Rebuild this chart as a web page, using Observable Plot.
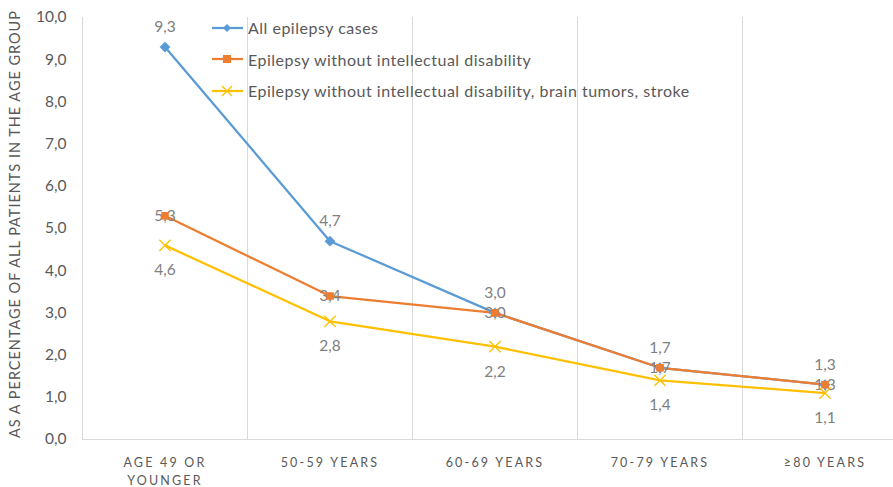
<!DOCTYPE html>
<html>
<head>
<meta charset="utf-8">
<script src="https://cdn.jsdelivr.net/npm/d3@7"></script>
<script src="https://cdn.jsdelivr.net/npm/@observablehq/plot@0.6"></script>
<style>
  html, body { margin: 0; padding: 0; background: #fff; overflow: hidden; }
  #wrap { position: relative; width: 893px; height: 487px; font-family: Lato, "Open Sans", sans-serif; }
  #legend { position: absolute; left: 212px; top: 12px; font-size: 16px; letter-spacing: 0.5px; color: #595959; }
  #legend .row { display: flex; align-items: center; height: 31.5px; white-space: nowrap; }
  #legend svg { margin-right: 5px; }
</style>
</head>
<body>
<div id="wrap">
  <div id="chart"></div>
  <div id="legend"></div>
</div>
<script>
const categories = ["AGE 49 OR\nYOUNGER", "50-59 YEARS", "60-69 YEARS", "70-79 YEARS", "≥80 YEARS"];
const seriesNames = [
  "All epilepsy cases",
  "Epilepsy without intellectual disability",
  "Epilepsy without intellectual disability, brain tumors, stroke"
];
const allEpilepsy = [9.3, 4.7, 3.0, 1.7, 1.3];
const withoutID = [5.3, 3.4, 3.0, 1.7, 1.3];
const withoutIDTumorsStroke = [4.6, 2.8, 2.2, 1.4, 1.1];
const yTicks = [0, 1, 2, 3, 4, 5, 6, 7, 8, 9, 10];
const yLabel = "AS A PERCENTAGE OF ALL PATIENTS IN THE AGE GROUP";

const colors = ["#5B9BD5", "#ED7D31", "#FFC000"];
const seriesValues = [allEpilepsy, withoutID, withoutIDTumorsStroke];

const data = [];
seriesValues.forEach((vals, s) => {
  vals.forEach((v, i) => data.push({series: seriesNames[s], cat: categories[i], value: v, s}));
});

const fmt = d => d.toFixed(1).replace(".", ",");
const xRange = [82, 907];
const band = (xRange[1] - xRange[0]) / categories.length;
const labelDy = [-20, 0, 25];

// square-shaped diamond symbol (Excel style)
const squareDiamond = {
  draw(ctx, size) {
    const r = Math.sqrt(size / 2);
    ctx.moveTo(0, -r); ctx.lineTo(r, 0); ctx.lineTo(0, r); ctx.lineTo(-r, 0); ctx.closePath();
  }
};
const symbols = [squareDiamond, "square", "times"];

const marks = [
  Plot.ruleX(categories, {x: d => d, y1: 0, y2: 10, dx: -band / 2, stroke: "#d9d9d9", strokeWidth: 1}),
  Plot.ruleY([0], {stroke: "#d9d9d9", strokeWidth: 1}),
  Plot.axisY({ticks: yTicks, tickSize: 0, tickPadding: 16, tickFormat: fmt, fontSize: 15.5, fill: "#595959", label: null}),
  Plot.axisX({tickSize: 0, tickPadding: 15, fontSize: 12.5, fill: "#595959", label: null, lineHeight: 1.45}),
  Plot.text([yLabel], {frameAnchor: "left", textAnchor: "middle", rotate: -90, dx: -67, dy: -4, fontSize: 14.5, fill: "#595959"})
];
seriesNames.forEach((name, s) => {
  marks.push(Plot.line(data.filter(d => d.s === s), {x: "cat", y: "value", stroke: colors[s], strokeWidth: 2.25}));
});
seriesNames.forEach((name, s) => {
  marks.push(Plot.text(data.filter(d => d.s === s), {x: "cat", y: "value", text: d => fmt(d.value), dy: labelDy[s], fontSize: 15.5, fill: "#808080"}));
});
seriesNames.forEach((name, s) => {
  const isStroke = s === 2;
  marks.push(Plot.dot(data.filter(d => d.s === s), {
    x: "cat", y: "value", symbol: symbols[s],
    r: isStroke ? 5.2 : 4.3,
    fill: isStroke ? "none" : colors[s],
    stroke: isStroke ? colors[s] : "none",
    strokeWidth: 1.3
  }));
});

const chart = Plot.plot({
  width: 893,
  height: 487,
  marginLeft: 82,
  marginRight: 0,
  marginTop: 17,
  marginBottom: 48,
  style: {fontFamily: "Lato, 'Open Sans', sans-serif", background: "#fff", overflow: "visible"},
  x: {type: "band", domain: categories, range: xRange, padding: 0, axis: null},
  y: {domain: [0, 10], axis: null},
  marks
});
document.getElementById("chart").appendChild(chart);

// letter spacing for x tick labels
chart.querySelectorAll('g[aria-label="x-axis tick label"] text').forEach(t => t.setAttribute("letter-spacing", "2.2"));
// stretch y label to the reference's length
chart.querySelectorAll('g[aria-label="text"] text').forEach(t => {
  if (t.textContent === yLabel) { t.setAttribute("textLength", "427"); t.setAttribute("lengthAdjust", "spacing"); }
});

// legend
const legend = document.getElementById("legend");
seriesNames.forEach((name, s) => {
  const row = document.createElement("div");
  row.className = "row";
  let marker;
  if (s === 0) marker = `<path d="M15,11 L19,15 L15,19 L11,15 Z" fill="${colors[s]}"/>`;
  else if (s === 1) marker = `<rect x="11" y="11" width="8" height="8" fill="${colors[s]}"/>`;
  else marker = `<path d="M10,10 L20,20 M20,10 L10,20" stroke="${colors[s]}" stroke-width="1.3"/>`;
  row.innerHTML = `<svg width="31" height="30"><line x1="0" y1="15" x2="31" y2="15" stroke="${colors[s]}" stroke-width="2.25"/>${marker}</svg><span>${name}</span>`;
  legend.appendChild(row);
});
</script>
</body>
</html>
